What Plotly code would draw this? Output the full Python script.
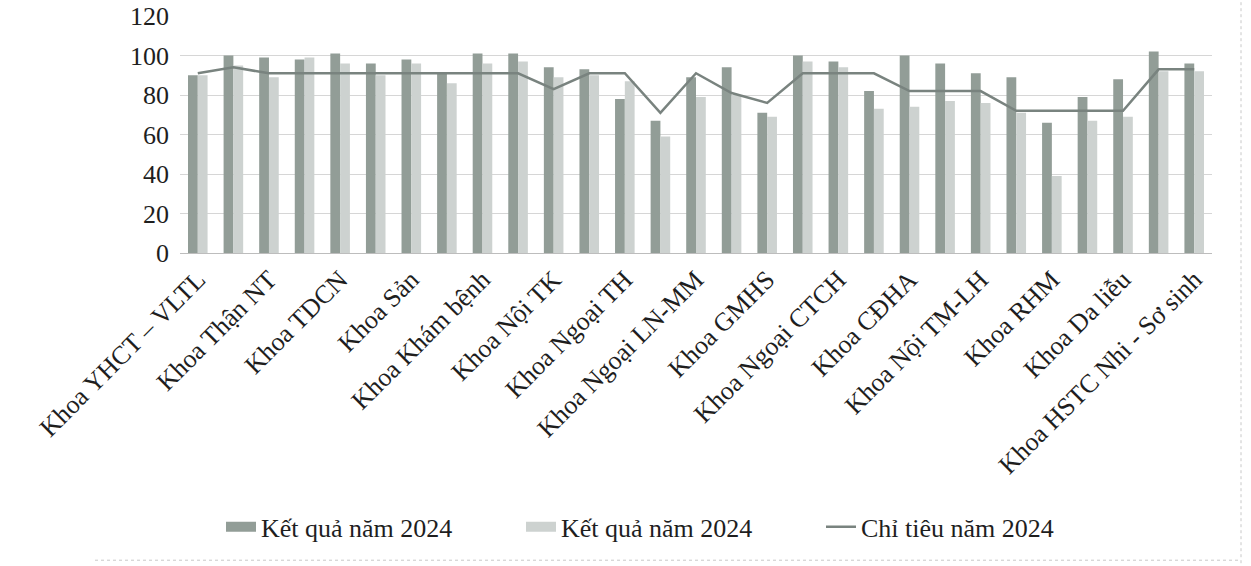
import plotly.graph_objects as go

# Departments (only every second label is printed on the axis)
labeled_departments = [
    "Khoa YHCT – VLTL", "Khoa Thận NT", "Khoa TDCN", "Khoa Sản",
    "Khoa Khám bệnh", "Khoa Nội TK", "Khoa Ngoại TH", "Khoa Ngoại LN-MM",
    "Khoa GMHS", "Khoa Ngoại CTCH", "Khoa CĐHA", "Khoa Nội TM-LH",
    "Khoa RHM", "Khoa Da liễu", "Khoa HSTC Nhi - Sơ sinh",
]

# Results and targets for the 29 departments, in axis order
ket_qua_1 = [90, 100, 99, 98, 101, 96, 98, 91, 101, 101, 94, 93, 78, 67, 89,
             94, 71, 100, 97, 82, 100, 96, 91, 89, 66, 79, 88, 102, 96]
ket_qua_2 = [90, 95, 89, 99, 96, 90, 96, 86, 96, 97, 89, 90, 87, 59, 79,
             80, 69, 97, 94, 73, 74, 77, 76, 71, 39, 67, 69, 92, 92]
chi_tieu = [91, 94, 91, 91, 91, 91, 91, 91, 91, 91, 83, 91, 91, 71, 91,
            81, 76, 91, 91, 91, 82, 82, 82, 72, 72, 72, 72, 93, 93]

y_ticks = [0, 20, 40, 60, 80, 100, 120]

series_names = ["Kết quả năm 2024", "Kết quả năm 2024", "Chỉ tiêu năm 2024"]

positions = list(range(len(ket_qua_1)))
label_positions = positions[::2]

FONT = "Liberation Serif, Times New Roman, serif"
TEXT = "#1e1e1e"
DARK = "#929d97"
LIGHT = "#cdd2d0"
LINE = "#79837f"

fig = go.Figure()
fig.add_trace(go.Bar(
    x=positions, y=ket_qua_1, name=series_names[0], showlegend=False,
    marker=dict(color=DARK, line=dict(width=0)),
))
fig.add_trace(go.Bar(
    x=positions, y=ket_qua_2, name=series_names[1], showlegend=False,
    marker=dict(color=LIGHT, line=dict(width=0)),
))
fig.add_trace(go.Scatter(
    x=positions, y=chi_tieu, name=series_names[2], showlegend=False,
    mode="lines", line=dict(color=LINE, width=2.5),
))

# Legend entries: wide flat swatches for the bar series, a thin stroke for the target
for name, color, width in [(series_names[0], DARK, 14),
                           (series_names[1], LIGHT, 14),
                           (series_names[2], LINE, 2.5)]:
    fig.add_trace(go.Scatter(
        x=[None], y=[None], name=name, mode="lines",
        line=dict(color=color, width=width), hoverinfo="skip",
    ))

# Dotted frame edges of the chart area
fig.add_shape(type="line", xref="paper", yref="paper",
              x0=(1241 - 180) / 1032, x1=(1241 - 180) / 1032,
              y0=(253.5 - 565) / 238, y1=(253.5 - 0) / 238,
              line=dict(color="#c8c8c8", width=1, dash="dot"))
fig.add_shape(type="line", xref="paper", yref="paper",
              x0=(95 - 180) / 1032, x1=(1241 - 180) / 1032,
              y0=(253.5 - 562) / 238, y1=(253.5 - 562) / 238,
              line=dict(color="#c8c8c8", width=1, dash="dot"))

fig.update_layout(
    width=1251, height=566,
    margin=dict(l=180, r=39, t=15.5, b=312.5, autoexpand=False),
    paper_bgcolor="white", plot_bgcolor="white",
    barmode="group", bargap=0.45, bargroupgap=0.0,
    font=dict(family=FONT, size=24, color=TEXT),
    showlegend=True,
    legend=dict(
        orientation="h", x=(221 - 180) / 1032, xanchor="left",
        y=-1.155, yanchor="middle",
        font=dict(family=FONT, size=26, color=TEXT),
        itemwidth=30, tracegroupgap=0, entrywidth=255,
    ),
    xaxis=dict(
        range=[-0.5, len(positions) - 0.5],
        tickmode="array", tickvals=label_positions, ticktext=labeled_departments,
        tickangle=-45, tickfont=dict(family=FONT, size=26, color=TEXT),
        showgrid=False, zeroline=False,
        showline=True, linecolor="#bdbdbd", linewidth=1,
        ticks="",
    ),
    yaxis=dict(
        range=[0, 120], tickmode="array", tickvals=y_ticks,
        tickfont=dict(family=FONT, size=26, color=TEXT),
        showgrid=True, gridcolor="#d6d6d6", gridwidth=1,
        zeroline=False, showline=False, ticks="",
        ticklabelstandoff=10,
    ),
)

fig.write_html("out.html")
